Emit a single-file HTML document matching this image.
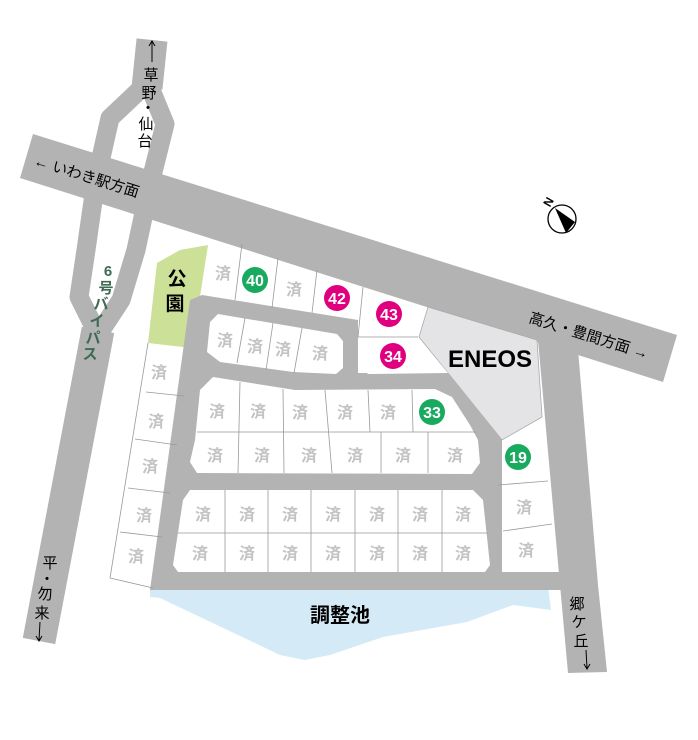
<!DOCTYPE html>
<html><head><meta charset="utf-8"><style>
html,body{margin:0;padding:0;background:#fff;}
svg{display:block;}
text{font-family:"Liberation Sans","Noto Sans CJK JP",sans-serif;}
.s{fill:#c3c3c3;font-size:16px;font-weight:bold;text-anchor:middle;}
.n{fill:#fff;font-size:16px;font-weight:bold;text-anchor:middle;}
.l{stroke:#999;stroke-width:0.8;fill:none;}
</style></head><body>
<svg width="698" height="740" viewBox="0 0 698 740" xmlns="http://www.w3.org/2000/svg">
<rect width="698" height="740" fill="#fff"/>
<!-- pond -->
<polygon points="150,588 548,586 551,610 513,605 467,622 383,637 330,655 305,660 280,655 160,598 150,597" fill="#d4ebf7"/>
<!-- bypass -->
<g stroke="#b3b3b3" fill="none" stroke-linejoin="round">
<polyline points="152,40 147,88" stroke-width="31"/>
<polyline points="145,85 110,118 96,180 86,250 79,297 98,335" stroke-width="19"/>
<polyline points="149,85 165,124 151,180 136,250 121,300 98,335" stroke-width="19"/>
<polyline points="98,330 39,641" stroke-width="33"/>
</g>
<!-- main diagonal road -->
<polygon points="33,134 677,335 663,382 20,178" fill="#b3b3b3"/>
<!-- right road -->
<polygon points="538,340 578,350 598,585 607,672 568,673 560,585" fill="#b3b3b3"/>
<!-- park -->
<polygon points="157,263 180,250 208,245 192,348 148,343" fill="#cde098"/>
<!-- ENEOS -->
<polygon points="428,307 537,340 542,417 502,440 419,337" fill="#e4e4e6" stroke="#aaa" stroke-width="0.8"/>
<!-- inner roads -->
<polygon points="202,295 358,320 358,373 448,373 502,440 502,572 562,572 562,590 150,590 190,300" fill="#b3b3b3"/>
<!-- lot 34 -->
<polygon points="358,337 418,337 448,373 368,374 358,365" fill="#fff"/>
<!-- block A -->
<polygon points="218,314 337,334 343,341 343,368 336,374 293,372 220,362 207,352 210,322" fill="#fff"/>
<!-- block B -->
<polygon points="213,377 295,390 435,389 452,397 470,425 478,440 480,463 472,474 197,473 190,462 195,440 200,390" fill="#fff"/>
<!-- block C -->
<polygon points="190,490 473,490 483,500 490,565 485,572 178,572 173,565 183,500" fill="#fff"/>
<!-- lot lines -->
<g class="l">
<line x1="242" y1="244" x2="235" y2="300"/>
<line x1="278" y1="258" x2="272" y2="308"/>
<line x1="317" y1="270" x2="312" y2="313"/>
<line x1="363" y1="287" x2="358" y2="337"/>
<line x1="358" y1="337" x2="418" y2="337"/>
<line x1="245" y1="318" x2="237" y2="363"/>
<line x1="273" y1="323" x2="266" y2="370"/>
<line x1="302" y1="328" x2="294" y2="373"/>
<line x1="197" y1="432" x2="476" y2="432"/>
<line x1="240" y1="382" x2="238" y2="473"/>
<line x1="283" y1="389" x2="284" y2="473"/>
<line x1="325" y1="390" x2="332" y2="473"/>
<line x1="368" y1="390" x2="370" y2="432"/>
<line x1="381" y1="432" x2="381" y2="473"/>
<line x1="412" y1="390" x2="413" y2="432"/>
<line x1="428" y1="432" x2="428" y2="473"/>
<line x1="178" y1="533" x2="488" y2="533"/>
<line x1="225" y1="490" x2="225" y2="572"/>
<line x1="268" y1="490" x2="268" y2="572"/>
<line x1="311" y1="490" x2="311" y2="572"/>
<line x1="355" y1="490" x2="355" y2="572"/>
<line x1="398" y1="490" x2="398" y2="572"/>
<line x1="442" y1="490" x2="442" y2="572"/>
<polyline points="148,343 110,578 153,588"/>
<line x1="146" y1="392" x2="184" y2="396"/>
<line x1="135" y1="439" x2="177" y2="445"/>
<line x1="128" y1="488" x2="170" y2="493"/>
<line x1="120" y1="532" x2="162" y2="537"/>
<line x1="498" y1="485" x2="548" y2="481"/>
<line x1="503" y1="531" x2="552" y2="524"/>
</g>
<!-- 済 labels -->
<g class="s">
<text x="223" y="279">済</text><text x="294" y="295">済</text>
<text x="225" y="346">済</text><text x="255" y="352">済</text><text x="283" y="355">済</text><text x="320" y="359">済</text>
<text x="217" y="417">済</text><text x="258" y="417">済</text><text x="300" y="418">済</text><text x="345" y="418">済</text><text x="388" y="418">済</text>
<text x="215" y="461">済</text><text x="262" y="461">済</text><text x="309" y="461">済</text><text x="355" y="461">済</text><text x="403" y="461">済</text><text x="455" y="461">済</text>
<text x="203" y="520">済</text><text x="247" y="520">済</text><text x="290" y="520">済</text><text x="333" y="520">済</text><text x="377" y="520">済</text><text x="420" y="520">済</text><text x="463" y="520">済</text>
<text x="200" y="559">済</text><text x="247" y="559">済</text><text x="290" y="559">済</text><text x="333" y="559">済</text><text x="377" y="559">済</text><text x="420" y="559">済</text><text x="463" y="559">済</text>
<text x="159" y="378">済</text><text x="156" y="427">済</text><text x="150" y="472">済</text><text x="144" y="521">済</text><text x="136" y="562">済</text>
<text x="524" y="513">済</text><text x="526" y="556">済</text>
</g>
<!-- badges -->
<circle cx="255" cy="280" r="13" fill="#1aaa5f"/><text class="n" x="255" y="286">40</text>
<circle cx="337" cy="298" r="13" fill="#e0007f"/><text class="n" x="337" y="304">42</text>
<circle cx="389" cy="314" r="13" fill="#e0007f"/><text class="n" x="389" y="320">43</text>
<circle cx="393" cy="356" r="13" fill="#e0007f"/><text class="n" x="393" y="362">34</text>
<circle cx="432" cy="412" r="13" fill="#1aaa5f"/><text class="n" x="432" y="418">33</text>
<circle cx="518" cy="457" r="13" fill="#1aaa5f"/><text class="n" x="518" y="463">19</text>
<!-- labels -->
<text x="177" y="285" font-size="19" font-weight="bold" text-anchor="middle">公</text>
<text x="175" y="310" font-size="19" font-weight="bold" text-anchor="middle">園</text>
<text x="490" y="367" font-size="24" font-weight="bold" text-anchor="middle">ENEOS</text>
<text x="340" y="622" font-size="20" font-weight="bold" text-anchor="middle">調整池</text>
<text transform="translate(33,165) rotate(17.3)" font-size="15">← いわき駅方面</text>
<text transform="translate(528,322) rotate(17.3)" font-size="15">高久・豊間方面 →</text>
<g font-size="15" text-anchor="middle">
<line x1="152" y1="42" x2="152" y2="62" stroke="#000" stroke-width="1"/><path d="M149,46 L152,41 L155,46" fill="none" stroke="#000"/>
<text x="151" y="80">草</text><text x="149" y="98">野</text><text x="148" y="113">・</text><text x="146" y="129">仙</text><text x="145" y="146">台</text>
<text x="50" y="568">平</text><text x="47" y="584">・</text><text x="45" y="599">勿</text><text x="42" y="618">来</text>
<line x1="40" y1="622" x2="39" y2="640" stroke="#000"/><path d="M36,636 L39,641 L42,636" fill="none" stroke="#000"/>
<text x="577" y="609">郷</text><text x="579" y="627">ケ</text><text x="581" y="646">丘</text>
<line x1="586" y1="650" x2="587" y2="668" stroke="#000"/><path d="M584,664 L587,669 L590,664" fill="none" stroke="#000"/>
</g>
<g fill="#3f6b55" font-size="15" font-weight="bold" text-anchor="middle">
<text x="108" y="276">6</text><text x="106" y="293">号</text><text x="101" y="309">バ</text><text x="97" y="326">イ</text><text x="93" y="343">パ</text><text x="90" y="359">ス</text>
</g>
<!-- compass -->
<circle cx="562" cy="219" r="14" fill="#fff" stroke="#000" stroke-width="1.3"/>
<polygon points="555,208 575,222 566,233" fill="#000"/>
<text transform="translate(552,204) rotate(-60)" font-size="12" font-weight="bold" text-anchor="middle">N</text>
</svg>
</body></html>
